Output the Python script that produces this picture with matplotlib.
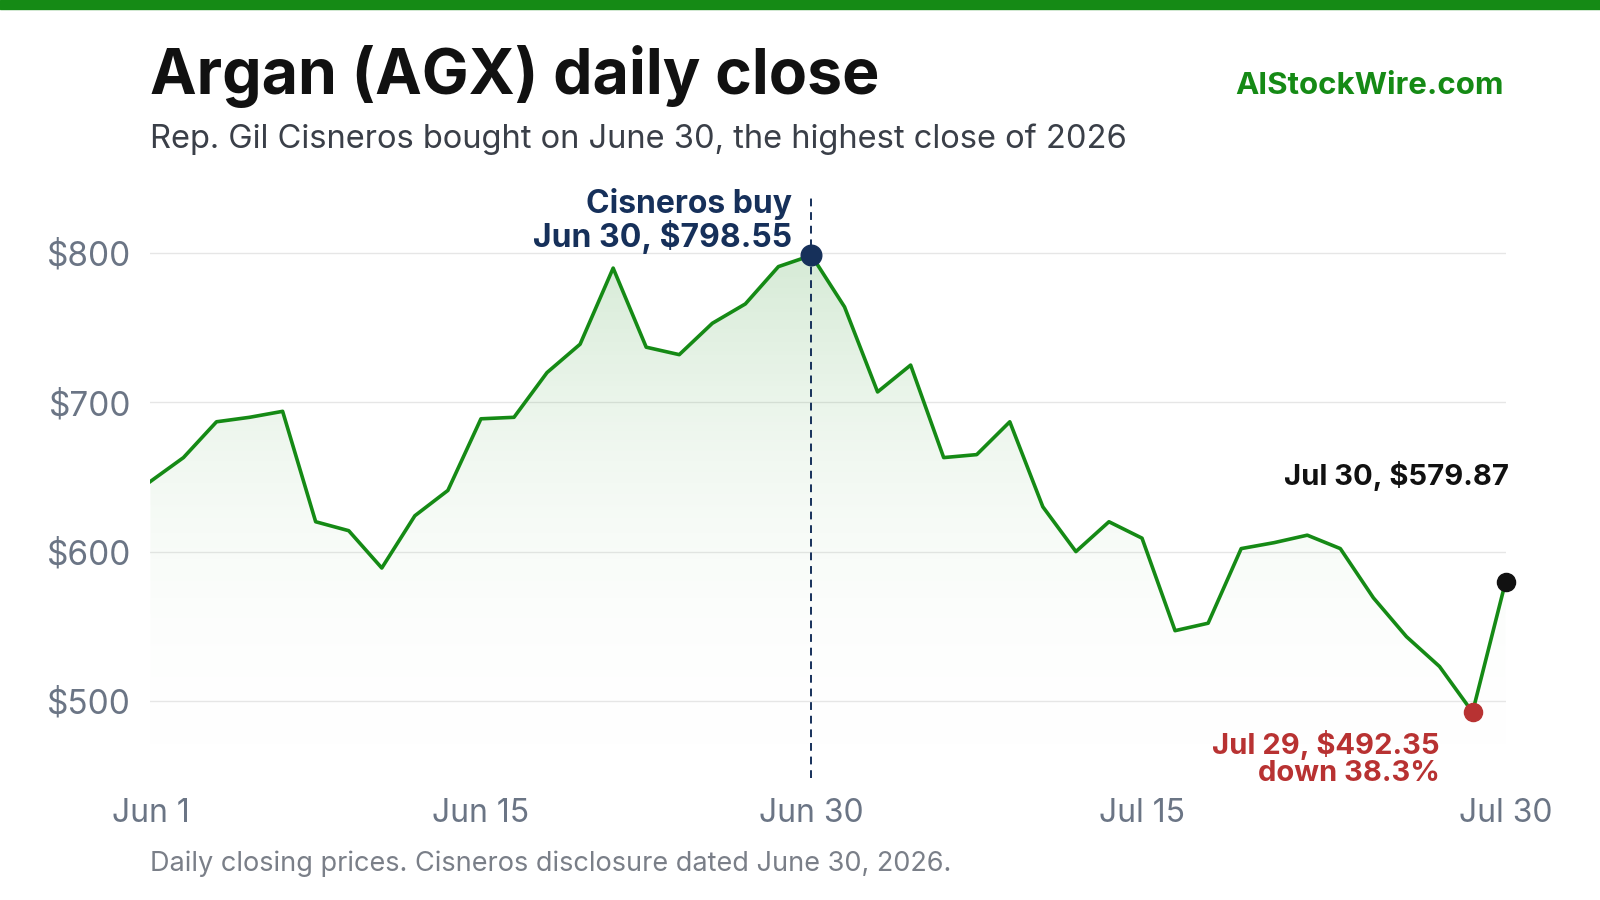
import matplotlib
matplotlib.use("Agg")
import matplotlib.pyplot as plt
import numpy as np

plt.rcParams["font.family"] = ["Inter", "DejaVu Sans"]

# daily closes, Jun 1 .. Jul 30 (trading days)
prices = [647, 663, 687, 690, 694, 620, 614, 589, 624, 641,
          689, 690, 720, 739, 790, 737, 732, 753, 766, 791,
          798.55, 764, 707, 725, 663, 665, 687, 630, 600, 620,
          609, 547, 552, 602, 606, 611, 602, 569, 543, 523,
          492.35, 579.87]
tick_idx = [0, 10, 20, 30, 41]
tick_labels = ["Jun 1", "Jun 15", "Jun 30", "Jul 15", "Jul 30"]
yticks = [500, 600, 700, 800]
buy_idx, low_idx, last_idx = 20, 40, 41

GREEN = "#158a15"
NAVY = "#16305a"
RED = "#b83232"
GREY = "#6b7585"

fig = plt.figure(figsize=(16, 9), dpi=100)
fig.patches.append(plt.Rectangle((0, 0.99), 1, 0.01, transform=fig.transFigure,
                                 color=GREEN, zorder=0))
ax = fig.add_axes([0.094, 0.16, 0.847, 0.625])
x = np.arange(len(prices))
ylo, yhi = 463, 840

# gradient fill under line
grad = np.linspace(0, 1, 256).reshape(-1, 1)
cmap = matplotlib.colors.LinearSegmentedColormap.from_list(
    "g", [(1, 1, 1, 0), (0.1, 0.55, 0.1, 0.18)])
im = ax.imshow(grad, aspect="auto", cmap=cmap, origin="lower",
               extent=[0, last_idx, ylo, max(prices)], zorder=1)
poly = ax.fill_between(x, prices, ylo, color="none")
im.set_clip_path(poly.get_paths()[0], transform=ax.transData)

ax.plot(x, prices, color=GREEN, lw=2.6, zorder=3)
for y in yticks:
    ax.axhline(y, color="#e6e6e6", lw=1, zorder=0)
ax.vlines(buy_idx, ylo - 15, yhi, color=NAVY, ls=(0, (4, 3)), lw=1.4, zorder=2,
          clip_on=False)

ax.scatter([buy_idx], [prices[buy_idx]], s=220, color=NAVY, zorder=4, clip_on=False)
ax.scatter([low_idx], [prices[low_idx]], s=170, color=RED, zorder=4, clip_on=False)
ax.scatter([last_idx], [prices[last_idx]], s=170, color="#111111", zorder=4,
           clip_on=False)

ax.text(buy_idx - 0.6, prices[buy_idx] + 1, "Cisneros buy\nJun 30, $798.55",
        ha="right", va="bottom", fontsize=23, fontweight="bold", color=NAVY,
        linespacing=1.0)
ax.text(last_idx + 0.1, prices[last_idx] + 71, "Jul 30, $579.87", ha="right",
        va="center", fontsize=21, fontweight="bold", color="#111111")
ax.text(low_idx - 1, prices[low_idx] - 12, "Jul 29, $492.35\ndown 38.3%",
        ha="right", va="top", fontsize=21, fontweight="bold", color=RED,
        linespacing=1.0)

ax.set_xlim(0, last_idx)
ax.set_ylim(ylo, yhi)
ax.set_yticks(yticks)
ax.set_yticklabels([f"${v}" for v in yticks], fontsize=24, color=GREY)
ax.set_xticks(tick_idx)
ax.set_xticklabels(tick_labels, fontsize=23, color=GREY)
ax.tick_params(length=0, pad=14)
ax.tick_params(axis="x", pad=30)
for s in ax.spines.values():
    s.set_visible(False)
ax.patch.set_alpha(0)

fig.text(0.094, 0.915, "Argan (AGX) daily close", fontsize=45, fontweight="bold",
         color="#111111", va="center")
fig.text(0.094, 0.845, "Rep. Gil Cisneros bought on June 30, the highest close of 2026",
         fontsize=23.5, color="#3a3f48", va="center")
fig.text(0.94, 0.905, "AIStockWire.com", fontsize=22.5, fontweight="bold",
         color=GREEN, ha="right", va="center")
fig.text(0.094, 0.04, "Daily closing prices. Cisneros disclosure dated June 30, 2026.",
         fontsize=19.5, color="#7a7f88", va="center")

fig.savefig("out.png", dpi=100)
